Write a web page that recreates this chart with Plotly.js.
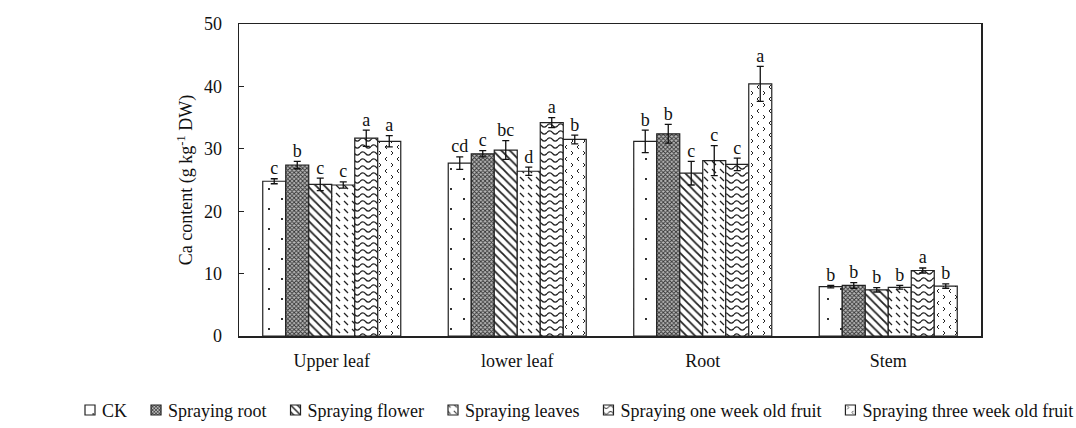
<!DOCTYPE html>
<html>
<head>
<meta charset="utf-8">
<script src="https://cdn.plot.ly/plotly-3.0.1.min.js"></script>
<style>html,body{margin:0;padding:0;background:#fff;}#chart{width:1076px;height:428px;overflow:hidden;}</style>
</head>
<body>
<div id="chart"></div>
<script>
const categories = ["Upper leaf", "lower leaf", "Root", "Stem"];
const seriesNames = ["CK", "Spraying root", "Spraying flower", "Spraying leaves", "Spraying one week old fruit", "Spraying three week old fruit"];

const ck        = [24.8, 27.7, 31.2, 7.9];
const root      = [27.4, 29.2, 32.4, 8.1];
const flower    = [24.3, 29.8, 26.1, 7.4];
const leaves    = [24.2, 26.4, 28.1, 7.8];
const oneWeek   = [31.7, 34.2, 27.5, 10.5];
const threeWeek = [31.2, 31.5, 40.4, 8.0];

const ckErr        = [0.4, 1.0, 1.8, 0.2];
const rootErr      = [0.6, 0.5, 1.5, 0.45];
const flowerErr    = [1.0, 1.5, 1.9, 0.35];
const leavesErr    = [0.5, 0.65, 2.4, 0.3];
const oneWeekErr   = [1.3, 0.8, 1.0, 0.4];
const threeWeekErr = [0.9, 0.7, 2.8, 0.35];

const ckLetters        = ["c", "cd", "b", "b"];
const rootLetters      = ["b", "c", "b", "b"];
const flowerLetters    = ["c", "bc", "c", "b"];
const leavesLetters    = ["c", "d", "c", "b"];
const oneWeekLetters   = ["a", "a", "c", "a"];
const threeWeekLetters = ["a", "b", "a", "b"];

const values  = [ck, root, flower, leaves, oneWeek, threeWeek];
const errs    = [ckErr, rootErr, flowerErr, leavesErr, oneWeekErr, threeWeekErr];
const letters = [ckLetters, rootLetters, flowerLetters, leavesLetters, oneWeekLetters, threeWeekLetters];

const FONT = "Liberation Serif, Times New Roman, serif";
// built-in patterns; tagged ones (grey level 10/20/30/40) are replaced with custom SVG after render
const patterns = [
  {shape: "-", fgcolor: "#282828", bgcolor: "white", size: 8, solidity: 0.2},
  {shape: "x", fgcolor: "#333", bgcolor: "#bbb", size: 3, solidity: 0.5},
  {shape: "\\", fgcolor: "#222", bgcolor: "white", size: 6, solidity: 0.3},
  {shape: "-", fgcolor: "#0a0a0a", bgcolor: "white", size: 8, solidity: 0.2},
  {shape: "-", fgcolor: "#141414", bgcolor: "white", size: 8, solidity: 0.2},
  {shape: "-", fgcolor: "#1e1e1e", bgcolor: "white", size: 8, solidity: 0.2}
];

const traces = [];
for (let i = 0; i < 6; i++) {
  traces.push({
    type: "bar", name: seriesNames[i], x: categories, y: values[i],
    offsetgroup: String(i),
    marker: {color: "white", line: {color: "#222", width: 1.2}, pattern: Object.assign({fillmode: "replace"}, patterns[i])},
    error_y: {type: "data", array: errs[i], visible: true, color: "#111", thickness: 1.3, width: 3.5},
    hoverinfo: "skip"
  });
}
for (let i = 0; i < 6; i++) {
  traces.push({
    type: "scatter", mode: "text", x: categories,
    y: values[i].map((v, j) => v + errs[i][j]),
    text: letters[i], textposition: "top center",
    textfont: {family: FONT, size: 18, color: "#111"},
    offsetgroup: String(i), showlegend: false, hoverinfo: "skip", cliponaxis: false
  });
}

const layout = {
  width: 1076, height: 428,
  margin: {l: 239, r: 95, t: 24, b: 92, autoexpand: false},
  paper_bgcolor: "white", plot_bgcolor: "white",
  barmode: "group", bargap: 0.256, bargroupgap: 0,
  scattermode: "group", scattergap: 0.256,
  font: {family: FONT, color: "#111"},
  showlegend: true,
  legend: {orientation: "h", x: -0.215, xanchor: "left", y: -0.237, yanchor: "middle",
           font: {family: FONT, size: 18, color: "#111"}, itemwidth: 30, tracegroupgap: 0,
           traceorder: "normal", bgcolor: "rgba(0,0,0,0)"},
  xaxis: {showline: true, mirror: true, linecolor: "#222", linewidth: 1.5, ticks: "",
          ticklabelstandoff: 8,
          tickfont: {family: FONT, size: 18, color: "#111"}, showgrid: false, zeroline: false},
  yaxis: {range: [0, 50], dtick: 10, ticks: "inside", ticklen: 5, tickcolor: "#222",
          ticklabelstandoff: 12,
          showline: true, mirror: true, linecolor: "#222", linewidth: 1.5, showgrid: false, zeroline: false,
          tickfont: {family: FONT, size: 18, color: "#111"},
          title: {text: "Ca content (g kg<sup>-1</sup> DW)", font: {family: FONT, size: 18, color: "#111"}, standoff: 6}}
};

// legend layout constants: first box left edge, box size, text offset, gap between entries, vertical centre
const LEG_X0 = 85, LEG_BOX = 10, LEG_TEXT_DX = 17, LEG_GAP = 24, LEG_Y = 410;

function customPatterns() {
  const svgNS = "http://www.w3.org/2000/svg";
  const defs = {
    "10": {w: 8, h: 8, d: "M1,1 L5,5", sw: 1.2},
    "20": {w: 11, h: 7, d: "M0,3.5 Q2.75,0.2 5.5,3.5 T11,3.5", sw: 1.2},
    "30": {w: 12, h: 12, d: "M4,1 L2,3 L4,5 M8,7 L10,9 L8,11", sw: 1},
    "40": {w: 26, h: 20, d: "M3,4h2v2h-2z M16,14h2v2h-2z", fill: true}
  };
  document.querySelectorAll("pattern").forEach(p => {
    const el = p.querySelector("path,circle");
    if (!el) return;
    const col = el.getAttribute("stroke") || el.getAttribute("fill") || "";
    const nums = col.match(/\d+/g);
    if (!nums || nums.length < 3) return;
    if (!(nums[0] === nums[1] && nums[1] === nums[2])) return;
    const def = defs[nums[0]];
    if (!def) return;
    while (p.firstChild) p.removeChild(p.firstChild);
    p.setAttribute("width", def.w); p.setAttribute("height", def.h);
    const r = document.createElementNS(svgNS, "rect");
    r.setAttribute("width", def.w); r.setAttribute("height", def.h); r.setAttribute("fill", "white");
    p.appendChild(r);
    const path = document.createElementNS(svgNS, "path");
    path.setAttribute("d", def.d);
    if (def.fill) { path.setAttribute("fill", "#333"); path.setAttribute("stroke", "none"); }
    else { path.setAttribute("stroke", "#222"); path.setAttribute("stroke-width", def.sw); path.setAttribute("fill", "none"); }
    p.appendChild(path);
  });
}

function compactLegend() {
  const leg = document.querySelector("g.legend");
  if (!leg) return;
  leg.setAttribute("transform", "translate(0,0)");
  leg.removeAttribute("clip-path");
  leg.querySelectorAll("[clip-path]").forEach(e => e.removeAttribute("clip-path"));
  const sb = leg.querySelector("g.scrollbox");
  if (sb) sb.setAttribute("transform", "translate(0,0)");
  let x = LEG_X0;
  leg.querySelectorAll("g.traces").forEach((g) => {
    g.setAttribute("transform", "translate(" + x + "," + LEG_Y + ")");
    const t = g.querySelector("text.legendtext");
    let w = 0;
    if (t) { t.setAttribute("x", LEG_TEXT_DX); w = t.getComputedTextLength(); }
    const h = LEG_BOX / 2;
    g.querySelectorAll("g.legendpoints path").forEach(p => {
      p.setAttribute("d", "M" + h + "," + h + "H-" + h + "V-" + h + "H" + h + "Z");
      p.setAttribute("transform", "translate(" + h + ",0)");
    });
    x += LEG_TEXT_DX + w + LEG_GAP;
  });
}

Plotly.newPlot("chart", traces, layout, {staticPlot: true}).then(() => {
  try { customPatterns(); } catch (e) {}
  try { compactLegend(); } catch (e) {}
});
</script>
</body>
</html>
